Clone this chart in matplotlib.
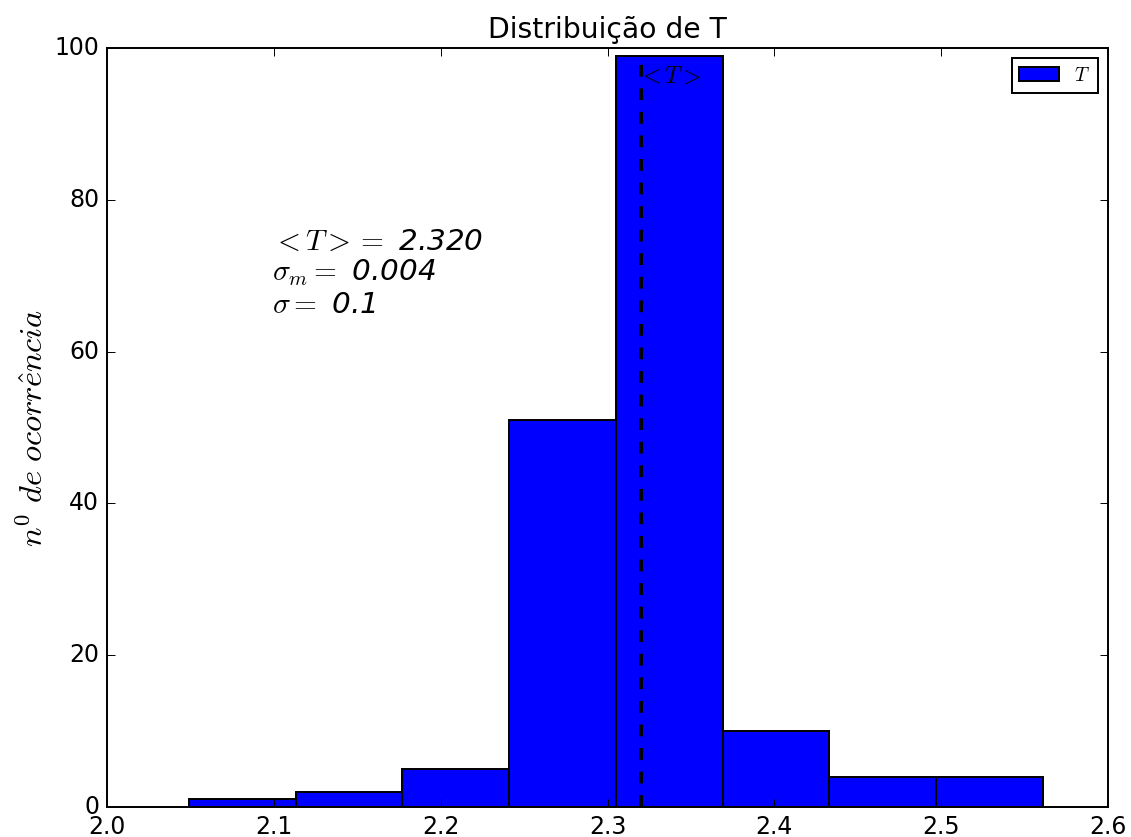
import numpy as np
import matplotlib
matplotlib.use('Agg')
import matplotlib.pyplot as plt

plt.style.use('classic')

# histogram of T: bin edges and counts per bin
bin_edges = [2.049, 2.113, 2.177, 2.241, 2.305, 2.369, 2.433, 2.497, 2.561]
counts = [1, 2, 5, 51, 99, 10, 4, 4]

T_mean = 2.320
sigma_m = 0.004
sigma = 0.1

fig = plt.figure(figsize=(8, 837 / 141.375), dpi=141.375, facecolor='w')
ax = fig.add_axes([107 / 1131, 1 - 807 / 837, 1001 / 1131, 759 / 837])

lefts = np.array(bin_edges[:-1])
widths = np.diff(bin_edges)
ax.bar(lefts, counts, width=widths, align='edge', color='b',
       edgecolor='k', linewidth=1.0, label=r'$T$')

ax.vlines(T_mean, 0, max(counts), colors='k', linestyles='dashed', linewidth=2)
ax.text(T_mean - 0.002, 95.5, r'$<T>$', fontsize=12)

ax.text(2.099, 64.3,
        r'$<T>=$ %.3f' % T_mean + '\n' + r'$\sigma_m=$ %.3f' % sigma_m + '\n' + r'$\sigma=$ %.1f' % sigma,
        fontsize=15, style='italic', va='bottom', ha='left', linespacing=1.12)

ax.set_xlim(2.0, 2.6)
ax.set_ylim(0, 100)
ax.set_title('Distribuição de T', fontsize=14.4)
ax.set_ylabel(r'$n^0\ de\ ocorr\hat{e}ncia$', fontsize=16.5, labelpad=2)
ax.legend(loc='upper right', prop={'size': 10}, handlelength=2.0)

plt.savefig('out.png', dpi=141.375, facecolor='w')
